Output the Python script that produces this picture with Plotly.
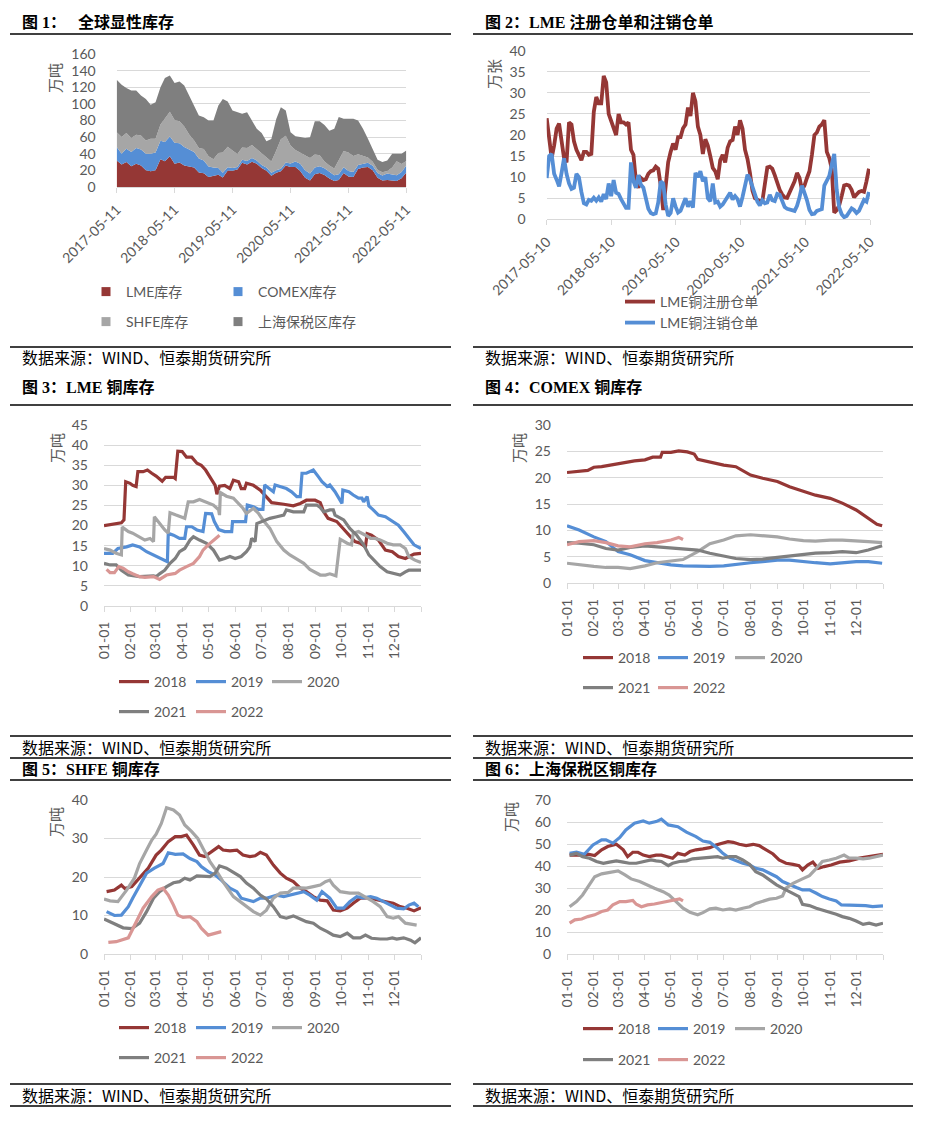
import pandas as pd
import plotly.graph_objects as go

W, H = 949, 1140
def fx(x): return x / W
def fy(y): return 1 - y / H

C_RED, C_BLUE, C_LGRAY, C_DGRAY, C_PINK = "#953735", "#558ED5", "#A6A6A6", "#7F7F7F", "#D99694"
GRID = "#D9D9D9"
TXT = "#595959"
TICKFONT = dict(family="Lato, Noto Sans, sans-serif", size=14, color=TXT)
LEGFONT = dict(family="Lato, Noto Sans CJK SC, sans-serif", size=14, color=TXT)
CJK = "Noto Sans CJK SC"

# ---------------- Panel 1: global visible stocks (monthly, 万吨) ----------------
p1_start = "2017-05-11"
p1_ticks = ["2017-05-11", "2018-05-11", "2019-05-11", "2020-05-11", "2021-05-11", "2022-05-11"]
p1_lme = [32, 27, 30, 25, 28, 26, 20, 19,
          20.3, 33.4, 31, 37, 28, 29.5, 26, 25, 23.5, 17.5, 16.5, 12,
          13, 14.7, 11.4, 19.7, 19.5, 21, 29.2, 27.2, 30.5, 28, 22.8, 19.5,
          13.5, 17.2, 19, 25.9, 24, 24, 19.3, 11.2, 7.7, 15.4, 16.8, 14.5,
          10.2, 7.3, 8.5, 16.8, 12.5, 12, 21.8, 23.4, 24, 20, 11, 7.8,
          8.3, 7.3, 7.2, 10.4, 17.3]
p1_comex = [16, 13, 16, 17, 19, 19, 20, 21,
            21.1, 22.1, 23, 23.9, 25.1, 23.2, 22.2, 20.2, 18.6, 16.9, 15.3, 12.8,
            10.4, 8.3, 5.6, 4.1, 3.4, 3.2, 3.5, 4, 4.4, 4, 3.8, 4.1,
            3.6, 3.1, 2.9, 3.7, 4.4, 6.6, 8.8, 9.1, 8.6, 8, 8.2, 8,
            7.6, 6.9, 6.7, 7, 6.7, 5.9, 4.8, 4.6, 5.1, 5.6, 5.9, 6,
            7.8, 7.8, 6.9, 7.6, 8.7]
p1_shfe = [18, 20, 19, 17, 16, 17, 16, 18,
           16.6, 19.7, 28.5, 29.5, 27.5, 26.3, 24.5, 18, 13.9, 12.5, 14, 12.1,
           10, 17.9, 24.5, 24.7, 21, 15.5, 14.8, 15.8, 15.5, 13.5, 14.5, 11.7,
           13.7, 23.5, 35.5, 32, 21.4, 13.8, 13, 17.1, 18.5, 15.8, 13.2, 8.2,
           8, 8, 17, 19.4, 22.4, 19.5, 12.9, 9.6, 6.3, 4.7, 4, 4,
           3.1, 8.4, 17, 9.7, 5.4]
p1_bonded = [63, 63, 54, 57, 53, 48, 50, 41,
             44, 44.8, 48.5, 43.6, 44.4, 48, 49.3, 46.8, 40, 39, 38, 43,
             46.6, 57, 64.5, 54.5, 48, 50, 40.5, 43, 29.6, 24.5, 24, 19.7,
             27, 38, 38.6, 30.4, 16.2, 16.6, 19, 21.6, 25, 40, 41, 44,
             42, 48, 52, 39, 40.4, 44.6, 40.5, 32.4, 22.6, 15.7, 12, 12.2,
             12.8, 16.5, 9, 12.3, 12.6]
p1_names = ["LME库存", "COMEX库存", "SHFE库存", "上海保税区库存"]

# ---------------- Panel 2: LME warrants (every 14 days, 万张) ----------------
p2_start = "2017-05-10"
p2_ticks = ["2017-05-10", "2018-05-10", "2019-05-10", "2020-05-10", "2021-05-10", "2022-05-10"]
p2_registered = [24, 20, 14.5, 17.5, 21.5, 22.7, 18, 14.5, 13.5, 23,
                 22.5, 18.5, 16.5, 15, 14, 16, 16, 15.3, 15.5, 25.5,
                 29, 27.5, 27.5, 34, 32.5, 25, 23.5, 22, 20, 25,
                 23, 23, 22.5, 23, 16.5, 15.3, 9, 7.5, 9.8, 9.3,
                 9.5, 10.8, 11.4, 11.6, 12.5, 12, 8, 2.2, 7.5, 13.5,
                 16, 18, 16.5, 19.5, 19.5, 21.6, 22.5, 26.5, 24.5, 30,
                 28, 22, 20, 15.5, 19, 17.5, 15, 12.2, 11.4, 9.5,
                 14, 15.3, 13.5, 17, 18.5, 18.8, 22, 20, 23.5, 21.5,
                 16.5, 14.3, 11, 6.8, 5, 4.7, 4.3, 4.3, 8, 12.3,
                 12.5, 12, 10.5, 8.5, 7, 5.9, 5.2, 5.1, 6.3, 7.5,
                 9, 11, 9.8, 7, 8, 9.8, 11.4, 15.3, 20, 20.6,
                 22, 22.5, 23.5, 16, 14.5, 12, 1.6, 2.2, 3.3, 5.5,
                 8, 8.2, 8, 7, 5.2, 5.9, 6.5, 6.7, 6.5, 9,
                 12]
p2_cancelled = [9.8, 15, 15.5, 10.8, 9.4, 7.8, 11, 14.5, 10.8, 8.5,
                7.2, 7.5, 10.8, 10, 6.5, 3.8, 3.5, 4.6, 4.4, 5.1,
                4.4, 5.2, 4.2, 6, 4.8, 8.5, 5.5, 9.3, 6.3, 6,
                4.8, 3.8, 2.7, 2.7, 13.5, 9, 7.5, 10.5, 8.2, 7.5,
                5, 2.5, 1.5, 1.2, 1.4, 4, 9, 8.5, 3.5, 0.8,
                1.5, 5, 3, 1.6, 2, 3.5, 5, 3, 4.3, 2.8,
                11, 10, 11.4, 9, 10, 5, 4.3, 8.5, 4, 4.2,
                3, 3.5, 4.5, 5.5, 6.3, 4.7, 5.5, 4.8, 3, 5.3,
                8.2, 10.6, 9.5, 7.5, 5.5, 4.2, 3.3, 4.5, 3.8, 4,
                5.8, 4.5, 4.3, 6, 5.8, 4, 2.9, 2.5, 2.3, 2,
                2, 3.2, 5.2, 8, 6.5, 4.5, 2.2, 1.2, 1.3, 2,
                2.2, 2.4, 8, 9, 10.3, 13, 15.5, 7, 2.8, 1.2,
                0.5, 0.8, 1.6, 2.6, 2.2, 1.5, 2, 3.5, 4.6, 4.2,
                6.5]
p2_names = ["LME铜注册仓单", "LME铜注销仓单"]

# ---------------- Panels 3-6: seasonal, (day-of-year, value) ----------------
month_days = [0, 31, 59, 90, 120, 151, 181, 212, 243, 273, 304, 334, 365]
month_labels = ["01-01", "02-01", "03-01", "04-01", "05-01", "06-01", "07-01",
                "08-01", "09-01", "10-01", "11-01", "12-01", ""]
years = ["2018", "2019", "2020", "2021", "2022"]
year_colors = [C_RED, C_BLUE, C_LGRAY, C_DGRAY, C_PINK]

lme_2018 = [(0,20),(10,20.3),(16,20.4),(20,20.7),(23,21.4),(25,30.9),(30,30.5),(33,30),(37,29.7),(39,33.4),(45,33.4),(50,33.8),(55,33),(60,32.3),(67,31),(71,32),(80,32),(82,31.7),(85,38.5),(90,38.4),(95,37),(101,37),(107,35.5),(112,35),(117,33.8),(122,32.1),(128,30),(130,27.8),(133,29.8),(139,30),(145,29.2),(149,31.3),(155,30.9),(158,29.2),(162,29.2),(164,30.5),(172,30),(180,28.8),(187,27.2),(193,25.7),(207,25.3),(218,24.9),(226,25.5),(233,26.3),(243,26.3),(249,25.7),(253,23.4),(258,21.8),(268,21),(276,19),(283,17.2),(289,16),(295,15.6),(301,14.7),(303,18),(308,17.6),(316,16.4),(324,13.9),(332,13.5),(339,12.3),(347,11.8),(357,12.9),(365,13.1)]
lme_2019 = [(0,13.1),(10,13.1),(16,14.3),(26,14.7),(33,15.2),(41,14.7),(49,13.5),(60,12.3),(68,11.4),(73,11),(74,18.1),(80,17.6),(87,16.8),(93,16.8),(95,19.7),(101,19.7),(107,18.9),(114,18.5),(117,23),(124,22.9),(127,21),(132,19),(139,18.5),(147,18.5),(148,21),(157,21),(163,21),(165,25.1),(172,24.7),(178,24),(183,24),(185,30.1),(191,29.2),(195,28.4),(197,30.1),(205,29.5),(210,29.2),(216,28.4),(222,27.2),(226,27.2),(228,33),(233,33),(241,33.8),(247,32.1),(251,30.9),(257,29.7),(260,30.1),(266,28.4),(272,26.3),(274,25.5),(275,28.8),(282,28.4),(287,27.6),(293,26.8),(297,26.8),(299,25.9),(303,27.2),(305,24.9),(310,23.9),(316,22.6),(324,22.2),(333,21),(339,20.1),(345,18.5),(351,16.8),(357,15.2),(365,14.3)]
lme_2020 = [(0,14.3),(7,13.9),(14,13.1),(20,12.7),(21,19.6),(28,18.5),(33,18.1),(41,17.2),(47,16.4),(53,16.8),(57,16),(58,22.2),(64,20.5),(70,18.9),(74,18.1),(76,23.2),(83,22.6),(93,21.8),(97,25.9),(103,25.9),(110,26.5),(118,25.9),(126,25.1),(132,23.9),(133,22.6),(134,28.2),(141,27.3),(149,26.8),(155,25.5),(160,24.3),(164,23),(172,24.3),(178,23),(183,21.4),(191,19.3),(199,16),(207,13.9),(214,12.7),(224,11.4),(230,10.6),(237,9.1),(243,8.5),(249,7.7),(255,7.7),(260,8),(267,7.5),(272,16.6),(280,15.6),(285,15.2),(287,18.1),(293,18.5),(301,17.6),(307,16.8),(312,16.8),(318,16.4),(326,15.6),(333,15.2),(341,15.2),(347,14.3),(351,12.3),(358,11.4),(365,10.8)]
lme_2021 = [(0,10.6),(7,10.2),(14,10.2),(20,8.9),(28,7.7),(41,7.3),(57,7.5),(60,7.3),(64,8),(70,8.9),(76,10.6),(82,11.8),(87,13.5),(93,14.3),(99,16.4),(103,17.2),(110,16.4),(118,15.6),(126,13.9),(133,11.4),(139,11.8),(145,12.3),(151,11.8),(158,12.3),(164,13.5),(168,14.7),(170,16.8),(174,16),(176,20.5),(182,21),(191,21.8),(199,22.2),(207,22.6),(210,23.9),(218,23.4),(230,23.4),(233,25.1),(245,25.1),(249,24.5),(253,23.4),(260,23.9),(264,23.9),(266,22.6),(276,21.4),(283,19.3),(291,17.6),(299,15.2),(305,12.7),(312,11),(318,9.8),(326,8.5),(333,8.1),(341,7.7),(347,8.5),(351,8.9),(365,8.9)]
lme_2022 = [(3,9.1),(7,8.3),(12,8.3),(17,9.8),(22,9.4),(28,8.5),(33,8),(41,7.3),(47,7.1),(57,7.3),(64,6.6),(72,7.7),(82,8.1),(87,8.9),(95,9.8),(103,10.6),(110,12.3),(114,13.9),(120,15.2),(126,16.4),(130,17.2),(133,17.6)]

half_month_days = [0, 14, 31, 45, 59, 73, 90, 104, 120, 134, 151, 165, 181, 195, 212, 226, 243, 257, 273, 287, 304, 318, 334, 348, 364]
comex_2018 = [(0,21),(14,21.2),(24,21.4),(31,22),(40,22.1),(50,22.4),(59,22.7),(68,23),(78,23.2),(90,23.4),(99,23.9),(108,23.9),(110,24.8),(120,24.8),(129,25.1),(139,24.9),(147,24.5),(151,23.5),(160,23.2),(175,22.7),(181,22.4),(195,22.1),(205,21.2),(212,20.5),(226,19.9),(243,19.3),(257,18.3),(273,17.5),(287,16.7),(304,16.1),(318,15.2),(334,13.9),(348,12.3),(358,11.2),(364,10.9)]
comex_2019_vals = [10.9,10.1,8.8,7.9,6,5.4,4.3,3.9,3.5,3.3,3.2,3.2,3.3,3.6,3.9,4.1,4.4,4.4,4.1,3.9,3.7,3.9,4.1,4.1,3.8]
comex_2020_vals = [3.8,3.5,3.2,3,3,2.8,3.3,3.9,4.2,4.5,6,7.5,8.2,9,9.2,9,8.8,8.4,8.1,8,8.2,8.2,8.1,7.9,7.7]
comex_2021_vals = [7.7,7.6,7.3,6.6,6.3,6.8,7.1,6.9,6.8,6.6,6.3,5.7,5.1,4.7,4.5,4.6,4.9,5.2,5.5,5.7,5.8,6,5.8,6.3,7.1]
comex_2022 = [(0,7.3),(14,7.9),(31,8.1),(45,7.7),(59,7.1),(73,6.9),(90,7.5),(104,7.7),(120,8.2),(129,8.7),(134,8.3)]

shfe_2018 = [(3,16.2),(12,16.6),(20,17.9),(24,17),(32,17.5),(41,19.7),(51,22.3),(60,25.7),(66,27),(74,29.2),(82,30.5),(89,30.5),(95,30.9),(103,28.3),(110,25.7),(116,25.3),(124,26.6),(132,27.9),(137,27),(145,26.8),(153,27),(160,25.7),(168,25.3),(174,25.5),(180,26.4),(187,25.7),(195,23.1),(203,21),(210,19.7),(218,18.8),(226,17.1),(233,16.2),(241,14.9),(249,14),(257,13.8),(264,11.4),(272,11.2),(280,11.9),(287,13.2),(295,14.5),(303,14.6),(310,14.3),(318,13.8),(326,13.6),(333,13.2),(341,12.3),(349,11.9),(357,11.2),(365,12)]
shfe_2019 = [(3,11),(12,10),(20,10.1),(28,12.3),(33,14.5),(41,17.9),(49,21),(58,22.3),(68,23.5),(74,26.3),(82,25.9),(91,26),(99,24.8),(107,24),(112,22.7),(120,21.4),(128,20.5),(135,19.2),(145,17.1),(153,16.2),(158,14.5),(172,13.6),(180,14.5),(187,14.5),(199,15.3),(207,14.9),(214,15.3),(222,15.8),(230,16.2),(237,15.3),(245,14),(251,16.2),(260,14.5),(268,11.9),(276,11.9),(283,13.6),(291,14.9),(299,14.6),(307,14.9),(314,14.5),(322,13.6),(330,12.7),(337,11.9),(345,11.7),(351,12.7),(357,13.2),(362,12.3)]
shfe_2020 = [(0,14.3),(7,13.8),(16,13.6),(26,16.6),(35,19.7),(41,23.5),(49,27),(55,29.6),(60,31.1),(66,33.9),(72,38),(80,37.4),(87,36.1),(93,33.5),(101,31.8),(108,30),(114,27.4),(122,24),(130,21.4),(137,18.8),(149,14.9),(157,13.6),(164,12.3),(172,11),(180,10.1),(187,11.4),(195,14.5),(203,15.8),(212,16),(218,17.1),(226,17.2),(233,17.1),(241,17.5),(249,17.9),(255,18.8),(260,19.2),(264,17.9),(272,16.2),(283,15.8),(293,15.8),(303,14.5),(310,13.6),(318,12.3),(326,9.7),(333,9.3),(339,9.7),(347,8),(357,7.5),(360,7.5)]
shfe_2021 = [(0,9.1),(10,8),(22,6.8),(32,6.6),(41,8),(49,11),(57,14.5),(64,16.2),(72,17.5),(80,18.5),(87,18.8),(93,19.7),(99,19.2),(107,20.3),(114,20.3),(122,20.1),(128,21),(133,22.9),(141,22.3),(149,21.2),(157,20.1),(164,18.4),(172,17.1),(180,15.3),(187,14.3),(195,12.3),(203,9.7),(210,9.3),(218,9.9),(226,9.1),(233,8.4),(241,8),(249,6.7),(257,5.8),(264,4.9),(272,4.5),(280,5.4),(287,4.2),(295,4.2),(301,4.9),(308,4.1),(318,3.9),(326,3.9),(332,4.2),(337,3.9),(345,4.2),(353,3.6),(358,2.9),(365,4.2)]
shfe_2022 = [(5,3),(14,3.2),(28,4.2),(37,8.4),(45,11.9),(55,14.9),(62,16.6),(68,17.1),(74,15.3),(80,12.7),(85,10.1),(91,9.5),(99,9.7),(107,8.4),(112,6.7),(120,4.9),(128,5.4),(135,5.8)]

bonded_2018 = [(3,45),(15,45),(24,45.4),(32,44.8),(40,47.4),(47,48.9),(57,49.9),(65,47.4),(70,44.3),(76,46.3),(82,46.3),(88,45),(95,44.3),(103,45),(109,45),(115,44.3),(122,43.6),(128,45.8),(136,45),(142,46.6),(149,47.4),(157,47.8),(165,48.4),(172,49.6),(180,50.4),(186,51.1),(192,50.8),(199,49.9),(207,49.3),(215,49.9),(222,49.3),(230,47.4),(238,45.5),(245,42.8),(253,41.3),(261,40.8),(268,40.2),(272,38.3),(278,40.5),(284,41.8),(290,39),(297,39.8),(305,40.5),(315,41.8),(326,42.4),(338,43.6),(349,44.3),(359,45),(365,45.4)]
bonded_2019 = [(3,45.8),(11,46.3),(20,45.4),(30,49.6),(40,51.9),(45,51.9),(53,50.4),(61,53),(68,56.4),(78,59.5),(88,60.5),(95,59.5),(103,60.2),(109,61.3),(117,58.7),(128,57.9),(138,55.4),(149,53.4),(157,51.4),(165,50.8),(174,48.1),(180,45.8),(188,43.6),(195,42.4),(203,41.3),(211,40.5),(218,39),(226,38.3),(234,36.8),(242,35.2),(249,33),(257,31.5),(265,30.3),(272,29.2),(280,29.2),(288,27.7),(295,26.2),(303,25.1),(311,24.2),(317,22.4),(322,22.4),(330,22.1),(338,22.4),(345,22.1),(353,21.6),(361,21.9),(365,22)]
bonded_2020 = [(3,21.6),(11,23.9),(18,26.9),(26,31.5),(32,35.2),(40,36.5),(49,37.1),(59,37.8),(67,36),(74,34.2),(84,33),(92,31.5),(101,30),(111,28.4),(118,26.9),(126,23.9),(134,20.9),(142,19.1),(151,17.9),(157,18.9),(165,20.6),(172,20.9),(180,20.1),(188,20.6),(195,20.1),(203,20.9),(211,21.6),(218,23.1),(226,24.2),(234,25),(242,25.4),(249,26.5),(253,30),(261,32.2),(272,34.2),(280,35.7),(288,39),(295,42.1),(303,42.8),(311,43.6),(320,45),(326,43.6),(334,43.6),(342,43.3),(349,43.6),(357,44.3),(365,45)]
bonded_2021 = [(3,45),(11,45.8),(18,44.3),(26,43.6),(34,42.1),(42,41.3),(49,41.8),(57,42.4),(65,41.8),(72,41.3),(80,41.3),(88,42.1),(97,42.8),(103,42.4),(109,42.1),(117,40.2),(122,41.3),(130,42.1),(138,42.4),(145,43.3),(153,43.6),(165,43.9),(174,44.3),(180,43.6),(188,44.3),(195,44.3),(203,42.8),(211,40.8),(218,37.5),(226,36),(234,33.7),(242,31.5),(249,30),(257,28.4),(263,27.2),(268,26.2),(272,22.7),(280,22.1),(288,20.9),(295,20.1),(303,19.4),(311,18.2),(318,17.1),(326,16.3),(334,15.1),(342,13.6),(349,14.1),(357,13.3),(365,14.1)]
bonded_2022 = [(3,14.1),(9,15.6),(17,16),(24,17.1),(32,17.9),(40,19.4),(47,20.1),(53,22.4),(61,23.9),(68,23.9),(76,24.4),(80,22.7),(86,21.6),(93,22.4),(101,22.8),(109,23.4),(117,23.9),(124,24.7),(130,25.1),(134,24.2)]

panel3_series = [lme_2018, lme_2019, lme_2020, lme_2021, lme_2022]
panel4_series = [comex_2018,
                 list(zip(half_month_days, comex_2019_vals)),
                 list(zip(half_month_days, comex_2020_vals)),
                 list(zip(half_month_days, comex_2021_vals)),
                 comex_2022]
panel5_series = [shfe_2018, shfe_2019, shfe_2020, shfe_2021, shfe_2022]
panel6_series = [bonded_2018, bonded_2019, bonded_2020, bonded_2021, bonded_2022]

# ---------------- figure ----------------
fig = go.Figure()
legends = {}
_leg_n = [0]
def new_legend(x_px, y_px):
    _leg_n[0] += 1
    n = _leg_n[0]
    key = "legend" if n == 1 else f"legend{n}"
    legends[key] = dict(x=fx(x_px), y=fy(y_px), xanchor="left", yanchor="middle",
                        orientation="h", bgcolor="rgba(0,0,0,0)", borderwidth=0,
                        font=LEGFONT, itemclick=False, itemdoubleclick=False)
    return key

# Panel 1 stacked areas
p1_dates = pd.date_range(p1_start, periods=len(p1_lme), freq=pd.DateOffset(months=1))
p1_colors = [C_RED, C_BLUE, C_LGRAY, C_DGRAY]
for vals, col, name in zip([p1_lme, p1_comex, p1_shfe, p1_bonded], p1_colors, p1_names):
    fig.add_trace(go.Scatter(x=p1_dates, y=vals, mode="lines", stackgroup="p1",
                             line=dict(width=0, color=col), fillcolor=col,
                             name=name, showlegend=False, xaxis="x", yaxis="y",
                             hoverinfo="skip"))
p1_leg_pos = [(86, 292), (218, 292), (86, 322), (218, 322)]
for col, name, (lx, ly) in zip(p1_colors, p1_names, p1_leg_pos):
    fig.add_trace(go.Scatter(x=[None], y=[None], mode="markers",
                             marker=dict(symbol="square", size=9, color=col),
                             name=name, showlegend=True, legend=new_legend(lx, ly),
                             xaxis="x", yaxis="y"))

# Panel 2 lines
p2_dates = pd.date_range(p2_start, periods=len(p2_registered), freq="14D")
for vals, col, name, ly in zip([p2_registered, p2_cancelled], [C_RED, C_BLUE], p2_names, [302, 323]):
    fig.add_trace(go.Scatter(x=p2_dates, y=vals, mode="lines",
                             line=dict(width=3.8, color=col),
                             name=name, legend=new_legend(620, ly), showlegend=True,
                             xaxis="x2", yaxis="y2", hoverinfo="skip"))

# Panels 3-6 seasonal lines
def add_seasonal(series, axis_n, leg_x, leg_rows):
    for i, (ser, yr, col) in enumerate(zip(series, years, year_colors)):
        row = 0 if i < 3 else 1
        col_i = i if i < 3 else i - 3
        key = new_legend(leg_x[col_i], leg_rows[row])
        fig.add_trace(go.Scatter(x=[d for d, v in ser], y=[v for d, v in ser], mode="lines",
                                 line=dict(width=3.2, color=col), name=yr,
                                 legend=key, showlegend=True,
                                 xaxis=f"x{axis_n}", yaxis=f"y{axis_n}", hoverinfo="skip"))

add_seasonal(panel3_series, 3, [114, 191, 267], [682, 712])
add_seasonal(panel4_series, 4, [578, 653, 730], [658, 688])
add_seasonal(panel5_series, 5, [114, 191, 267], [1028, 1058])
add_seasonal(panel6_series, 6, [578, 653, 730], [1029, 1060])

# ---------------- axes ----------------
def x_common(left, right, anchor):
    return dict(domain=[fx(left), fx(right)], anchor=anchor, showgrid=False, zeroline=False,
                showline=True, linecolor=GRID, linewidth=1, ticks="outside", ticklen=5,
                tickcolor=GRID, tickwidth=1, tickfont=TICKFONT, fixedrange=True,
                automargin=False)

def y_common(bottom, top, anchor, rng, dtick, standoff):
    return dict(domain=[fy(bottom), fy(top)], anchor=anchor, range=rng, dtick=dtick, tick0=0,
                showgrid=True, gridcolor=GRID, gridwidth=1, zeroline=False, showline=False,
                ticks="", tickfont=TICKFONT, ticklabelstandoff=standoff, fixedrange=True,
                automargin=False)

layout_axes = {}
xa = x_common(116.7, 406.3, "y")
xa.update(type="date", range=[p1_ticks[0], p1_ticks[-1]], tickmode="array",
          tickvals=p1_ticks, ticktext=p1_ticks, tickangle=-45, ticklabelstandoff=3)
layout_axes["xaxis"] = xa
layout_axes["yaxis"] = y_common(187, 54, "x", [0, 160], 20, 20)

xa2 = x_common(546.7, 870, "y2")
xa2.update(type="date", range=[p2_ticks[0], p2_ticks[-1]], tickmode="array",
           tickvals=p2_ticks, ticktext=p2_ticks, tickangle=-45, ticklabelstandoff=3)
layout_axes["xaxis2"] = xa2
layout_axes["yaxis2"] = y_common(219.3, 50.7, "x2", [0, 40], 5, 20)

panel_geo = {
    3: dict(l=104, r=421, b=606, t=425, rng=[0, 45], dt=5),
    4: dict(l=567, r=883, b=583.3, t=425, rng=[0, 30], dt=5),
    5: dict(l=104, r=421, b=954, t=800, rng=[0, 40], dt=10),
    6: dict(l=567, r=883, b=954.3, t=800, rng=[0, 70], dt=10),
}
for n, g in panel_geo.items():
    xa_n = x_common(g["l"], g["r"], f"y{n}")
    xa_n.update(range=[0, 365], tickmode="array", tickvals=month_days, ticktext=month_labels,
                tickangle=-90, ticklabelstandoff=4)
    layout_axes[f"xaxis{n}"] = xa_n
    layout_axes[f"yaxis{n}"] = y_common(g["b"], g["t"], f"x{n}", g["rng"], g["dt"], 15)

# ---------------- text & frame lines ----------------
annotations = []
def text(x, y, s, size=15, color="black", bold=False, family=CJK, angle=0, xanchor="left"):
    annotations.append(dict(x=fx(x), y=fy(y), xref="paper", yref="paper", text=s,
                            showarrow=False, xanchor=xanchor, yanchor="middle", textangle=angle,
                            font=dict(family=family, size=size, color=color,
                                      weight=700 if bold else 400)))

TITLE_FONT = "Liberation Serif, " + CJK
text(20, 22, "图 1：   全球显性库存", 16, bold=True, family=TITLE_FONT)
text(483, 22, "图 2：LME 注册仓单和注销仓单", 16, bold=True, family=TITLE_FONT)
text(20, 388, "图 3：LME 铜库存", 16, bold=True, family=TITLE_FONT)
text(483, 388, "图 4：COMEX 铜库存", 16, bold=True, family=TITLE_FONT)
text(20, 769, "图 5：SHFE 铜库存", 16, bold=True, family=TITLE_FONT)
text(483, 769, "图 6：上海保税区铜库存", 16, bold=True, family=TITLE_FONT)

SRC = "数据来源：WIND、恒泰期货研究所"
for sx, sy in [(20, 357), (483, 357), (20, 747), (483, 747), (20, 1095), (483, 1095)]:
    text(sx, sy, SRC, 16)

for (ux, uy, s) in [(55, 78, "万吨"), (494, 74, "万张"), (56, 448, "万吨"),
                    (518, 448, "万吨"), (55, 822, "万吨"), (510, 817, "万吨")]:
    text(ux, uy, s, 15, color=TXT, angle=-90, xanchor="center")

shapes = []
def hline(x0, x1, y, w=1.3):
    shapes.append(dict(type="line", xref="paper", yref="paper", x0=fx(x0), x1=fx(x1),
                       y0=fy(y), y1=fy(y), line=dict(color="black", width=w)))

for (x0, x1) in [(10, 451), (473, 913)]:
    for y in [34, 347, 405, 736, 758, 780, 1084, 1106]:
        hline(x0, x1, y)

fig.update_layout(
    template="none",
    width=W, height=H, margin=dict(l=0, r=0, t=0, b=0, pad=0, autoexpand=False),
    paper_bgcolor="white", plot_bgcolor="white",
    hovermode=False, showlegend=True,
    annotations=annotations, shapes=shapes,
    **layout_axes, **legends,
)

fig.write_html("out.html")
